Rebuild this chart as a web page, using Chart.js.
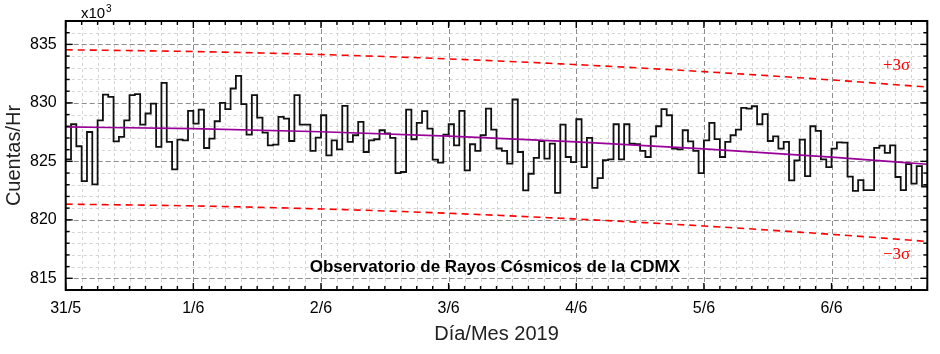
<!DOCTYPE html>
<html><head><meta charset="utf-8">
<script src="https://cdn.jsdelivr.net/npm/chart.js@4.4.0/dist/chart.umd.min.js"></script>
<style>html,body{margin:0;padding:0;background:#fff}</style>
</head><body>
<canvas id="c" width="940" height="354"></canvas>
<script>
// ---- data ----
const dayLabels = ['31/5','1/6','2/6','3/6','4/6','5/6','6/6'];
const dayTickHours = [0,24,48,72,96,120,144];
const yTickValues = [815,820,825,830,835];
const hourlyCounts = [
 825.17,828.17,826.29,823.31,827.51,823.03,828.51,830.71,830.51,826.71,
 827.09,828.51,830.66,830.74,828.14,829.09,829.94,826.23,831.71,826.66,
 824.31,826.86,826.80,829.31,828.23,829.43,826.14,826.94,828.43,830.00,
 829.46,831.23,832.31,829.89,827.29,830.66,828.74,827.46,826.37,826.43,
 828.80,828.66,826.74,830.66,828.14,828.14,825.89,827.03,828.94,825.51,
 826.80,826.03,829.74,826.66,827.23,828.37,825.80,826.80,826.89,827.66,
 827.40,827.00,824.00,824.09,829.43,826.89,828.29,829.29,827.80,825.14,
 824.89,827.29,828.17,826.37,829.31,824.23,826.46,825.89,827.23,829.51,
 827.71,826.10,825.89,824.80,830.29,825.80,822.51,823.94,825.29,826.74,
 825.23,826.51,822.31,828.14,825.37,824.94,828.60,824.51,827.00,822.74,
 823.57,825.10,825.17,828.17,825.17,828.17,826.51,826.46,825.89,825.37,
 827.14,828.00,829.46,828.94,826.09,826.03,827.66,826.71,825.89,824.00,
 826.80,828.29,826.90,825.37,826.66,827.23,827.71,829.57,829.51,829.71,
 828.17,829.03,826.74,827.14,826.09,826.66,823.37,825.09,826.86,823.74,
 828.00,827.60,825.17,824.51,826.09,826.63,826.60,823.70,822.47,823.40,
 822.54,822.54,826.15,826.34,825.73,826.37,823.66,822.54,824.77,823.10,
 824.60,822.85
];
const trendHours  = [0,24,48,72,96,120,144,162];
const trendValues = [827.94,827.79,827.53,827.16,826.67,826.07,825.36,824.75];
const upperValues = [834.54,834.39,834.13,833.76,833.27,832.67,831.96,831.35];
const lowerValues = [821.34,821.19,820.93,820.56,820.07,819.47,818.76,818.15];
const xMin = 0, xMax = 162, yMin = 814, yMax = 837;

// ---- build datasets ----
const stepPts = hourlyCounts.map((v,i)=>({x:i,y:v}));
stepPts.push({x:hourlyCounts.length, y:hourlyCounts[hourlyCounts.length-1]});
const pts = (vals)=>trendHours.map((h,i)=>({x:h,y:vals[i]}));

const SANS = '"Liberation Sans", Arial, sans-serif';

const frame = {
  id:'frame',
  beforeDatasetsDraw(chart){
    const {ctx, chartArea:a, scales:{x,y}} = chart;
    ctx.save();
    ctx.lineWidth = 1;
    const ln=(x1,y1,x2,y2)=>{ctx.beginPath();ctx.moveTo(x1,y1);ctx.lineTo(x2,y2);ctx.stroke();};
    ctx.strokeStyle = '#d4d4d4'; ctx.setLineDash([3,3]);
    for(let h=xMin; h<=xMax; h+=3){ if(h%24===0) continue; const p=Math.round(x.getPixelForValue(h))+0.5; ln(p,a.top,p,a.bottom); }
    for(let v=yMin; v<=yMax; v+=1){ if(v%5===0) continue; const p=Math.round(y.getPixelForValue(v))+0.5; ln(a.left,p,a.right,p); }
    ctx.strokeStyle = '#8c8c8c'; ctx.setLineDash([5,3]);
    for(const h of dayTickHours){ if(h===xMin) continue; const p=Math.round(x.getPixelForValue(h))+0.5; ln(p,a.top,p,a.bottom); }
    for(const v of yTickValues){ const p=Math.round(y.getPixelForValue(v))+0.5; ln(a.left,p,a.right,p); }
    ctx.restore();
  },
  afterDatasetsDraw(chart){
    const {ctx, chartArea:a, scales:{x,y}} = chart;
    ctx.save();
    ctx.setLineDash([]);
    ctx.strokeStyle = '#000'; ctx.lineWidth = 1.4;
    const ln=(x1,y1,x2,y2)=>{ctx.beginPath();ctx.moveTo(x1,y1);ctx.lineTo(x2,y2);ctx.stroke();};
    for(let h=xMin; h<=xMax; h+=3){
      const L = (h%24===0)?7:4; const p=x.getPixelForValue(h);
      ln(p,a.bottom,p,a.bottom-L); ln(p,a.top,p,a.top+L);
    }
    for(let v=yMin; v<=yMax; v+=1){
      const L = (v%5===0)?7:4; const p=y.getPixelForValue(v);
      ln(a.left,p,a.left+L,p); ln(a.right,p,a.right-L,p);
    }
    ctx.lineWidth = 2;
    ctx.strokeRect(a.left, a.top, a.right-a.left, a.bottom-a.top);
    // texts
    ctx.fillStyle = '#000';
    ctx.textBaseline = 'alphabetic';
    ctx.textAlign = 'left';
    ctx.font = '15px '+SANS;
    ctx.fillText('x10', 81, 18);
    ctx.font = '10px '+SANS;
    ctx.fillText('3', 106, 12);
    ctx.font = 'bold 17px '+SANS;
    ctx.textAlign = 'center';
    ctx.fillText('Observatorio de Rayos Cósmicos de la CDMX', x.getPixelForValue(80.7), y.getPixelForValue(815.5));
    ctx.fillStyle = '#ff0000';
    ctx.font = '17px "Liberation Serif", "Times New Roman", serif';
    ctx.textAlign = 'right';
    ctx.fillText('+3σ', x.getPixelForValue(158.8), y.getPixelForValue(832.85));
    ctx.fillText('\u22123σ', x.getPixelForValue(158.8), y.getPixelForValue(816.65));
    ctx.restore();
  }
};

new Chart(document.getElementById('c'), {
  type:'line',
  data:{ datasets:[
    {label:'trend', data:pts(trendValues), borderColor:'#990099', borderWidth:1.7, pointRadius:0, cubicInterpolationMode:'monotone', fill:false},
    {label:'counts', data:stepPts, stepped:'before', borderColor:'#111', borderWidth:1.8, pointRadius:0, fill:false},
    {label:'+3s', data:pts(upperValues), borderColor:'#ff0000', borderWidth:1.6, borderDash:[7,5], pointRadius:0, cubicInterpolationMode:'monotone', fill:false},
    {label:'-3s', data:pts(lowerValues), borderColor:'#ff0000', borderWidth:1.6, borderDash:[7,5], pointRadius:0, cubicInterpolationMode:'monotone', fill:false}
  ]},
  options:{
    responsive:false, animation:false, devicePixelRatio:1,
    layout:{padding:{top:21, right:12.7, left:0, bottom:0}},
    plugins:{legend:{display:false}, tooltip:{enabled:false}},
    scales:{
      x:{type:'linear', min:xMin, max:xMax,
        afterBuildTicks:(s)=>{s.ticks = dayTickHours.map(v=>({value:v}));},
        afterFit:(s)=>{s.height = 64;},
        ticks:{autoSkip:false, maxRotation:0, padding:9, color:'#000', font:{family:SANS,size:16},
          callback:(v)=>dayLabels[dayTickHours.indexOf(v)]},
        grid:{display:false, drawTicks:false}, border:{display:false},
        title:{display:true, text:'Día/Mes 2019', color:'#222', font:{family:SANS,size:20}, padding:{top:0,bottom:8}}
      },
      y:{type:'linear', min:yMin, max:yMax,
        afterBuildTicks:(s)=>{s.ticks = yTickValues.map(v=>({value:v}));},
        afterFit:(s)=>{s.width = 65.7;},
        ticks:{autoSkip:false, padding:9, color:'#000', font:{family:SANS,size:16}},
        grid:{display:false, drawTicks:false}, border:{display:false},
        title:{display:true, text:'Cuentas/Hr', color:'#222', font:{family:SANS,size:20}, padding:{top:2,bottom:0}}
      }
    }
  },
  plugins:[frame]
});
</script>
</body></html>
